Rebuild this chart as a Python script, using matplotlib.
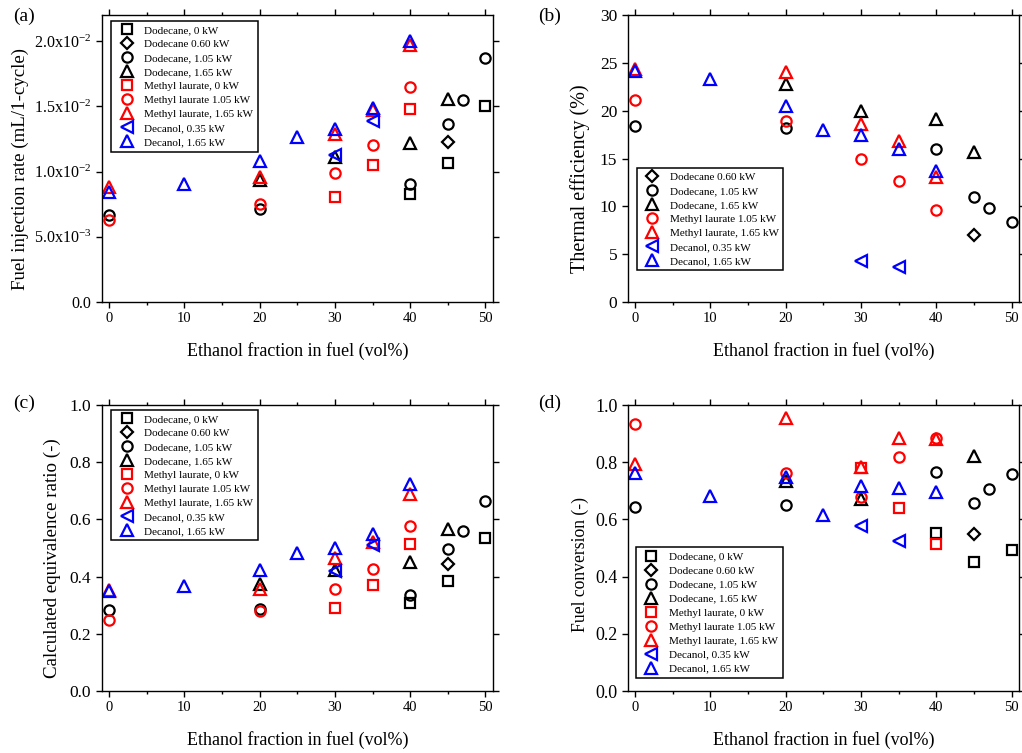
import numpy as np
import matplotlib
matplotlib.use("Agg")
import matplotlib.pyplot as plt
from matplotlib.ticker import MultipleLocator, FixedLocator, FixedFormatter

plt.rcParams['font.family'] = ['Liberation Serif', 'DejaVu Serif']
plt.rcParams['mathtext.fontset'] = 'custom'
plt.rcParams['mathtext.rm'] = 'Liberation Serif'
plt.rcParams['mathtext.it'] = 'Liberation Serif:italic'

# ethanol fraction (vol%) per series
x_dod0 = [40, 45, 50]
x_dod060 = [45]
x_dod105 = [0, 20, 40, 45, 47, 50]
x_dod165 = [20, 30, 40, 45]
x_ml0 = [30, 35, 40]
x_ml105 = [0, 20, 30, 35, 40]
x_ml165 = [0, 20, 30, 35, 40]
x_dec035 = [30, 35]
x_dec165 = [0, 10, 20, 25, 30, 35, 40]

# (a) fuel injection rate (mL/1-cycle)
inj_dod0 = [0.00831, 0.01066, 0.0150]
inj_dod060 = [0.01227]
inj_dod105 = [0.00665, 0.00716, 0.00908, 0.01368, 0.01552, 0.01867]
inj_dod165 = [0.00938, 0.0111, 0.0122, 0.01557]
inj_ml0 = [0.00803, 0.01048, 0.01478]
inj_ml105 = [0.00627, 0.00754, 0.0099, 0.01202, 0.01649]
inj_ml165 = [0.00882, 0.00956, 0.01289, 0.0147, 0.01974]
inj_dec035 = [0.0113, 0.01386]
inj_dec165 = [0.00841, 0.00908, 0.01084, 0.01266, 0.01327, 0.01488, 0.0200]

# (b) thermal efficiency (%)
eff_dod0 = []
eff_dod060 = [6.96]
eff_dod105 = [18.45, 18.24, 16.01, 11.0, 9.85, 8.35]
eff_dod165 = [22.76, 20.01, 19.18, 15.66]
eff_ml0 = []
eff_ml105 = [21.09, 18.9, 14.97, 12.67, 9.64]
eff_ml165 = [24.4, 24.09, 18.62, 16.81, 13.02]
eff_dec035 = [4.32, 3.62]
eff_dec165 = [24.2, 23.29, 20.5, 18.0, 17.5, 15.98, 13.71]

# (c) calculated equivalence ratio (-)
phi_dod0 = [0.307, 0.385, 0.535]
phi_dod060 = [0.444]
phi_dod105 = [0.283, 0.286, 0.336, 0.497, 0.558, 0.664]
phi_dod165 = [0.373, 0.423, 0.452, 0.566]
phi_ml0 = [0.289, 0.372, 0.515]
phi_ml105 = [0.249, 0.281, 0.357, 0.427, 0.578]
phi_ml165 = [0.353, 0.357, 0.466, 0.522, 0.689]
phi_dec035 = [0.421, 0.510]
phi_dec165 = [0.350, 0.368, 0.423, 0.484, 0.499, 0.548, 0.724]

# (d) fuel conversion (-)
conv_dod0 = [0.554, 0.450, 0.492]
conv_dod060 = [0.548]
conv_dod105 = [0.643, 0.650, 0.765, 0.657, 0.707, 0.758]
conv_dod165 = [0.734, 0.671, np.nan, 0.823]
conv_ml0 = [0.780, 0.639, 0.514]
conv_ml105 = [0.932, 0.763, 0.677, 0.819, 0.886]
conv_ml165 = [0.793, 0.956, 0.785, 0.886, 0.880]
conv_dec035 = [0.578, 0.526]
conv_dec165 = [0.763, 0.683, 0.747, 0.615, 0.717, 0.709, 0.697]

labels = ['Dodecane, 0 kW', 'Dodecane 0.60 kW', 'Dodecane, 1.05 kW', 'Dodecane, 1.65 kW',
          'Methyl laurate, 0 kW', 'Methyl laurate 1.05 kW', 'Methyl laurate, 1.65 kW',
          'Decanol, 0.35 kW', 'Decanol, 1.65 kW']
xs = [x_dod0, x_dod060, x_dod105, x_dod165, x_ml0, x_ml105, x_ml165, x_dec035, x_dec165]
markers = ['s', 'D', 'o', '^', 's', 'o', '^', '<', '^']
sizes = [6.5, 6.5, 7.4, 9, 6.5, 7.4, 9, 9, 9]
colors = ['black', 'black', 'black', 'black', 'red', 'red', 'red', 'blue', 'blue']


def panel(ax, ys, ylim, ystep, legend_xy):
    for x, y, lab, m, s, c in zip(xs, ys, labels, markers, sizes, colors):
        if len(y) == 0:
            continue
        ax.plot(x, y, linestyle='none', marker=m, markersize=s, markerfacecolor='none',
                markeredgecolor=c, markeredgewidth=1.6, label=lab)
    ax.set_xlim(-1, 51)
    ax.set_ylim(*ylim)
    ax.xaxis.set_major_locator(MultipleLocator(10))
    ax.xaxis.set_minor_locator(MultipleLocator(5))
    ax.yaxis.set_major_locator(MultipleLocator(ystep))
    ax.tick_params(which='both', direction='out', top=True, right=True, width=1)
    ax.tick_params(which='major', length=4)
    ax.tick_params(which='minor', length=2.2)
    ax.tick_params(axis='x', labelsize=10.5)
    for sp in ax.spines.values():
        sp.set_linewidth(1)
    ax.set_xlabel('Ethanol fraction in fuel (vol%)', fontsize=13, labelpad=12)
    leg = ax.legend(loc='upper left', bbox_to_anchor=legend_xy, borderaxespad=0,
                    fontsize=8, frameon=True, fancybox=False, edgecolor='black',
                    framealpha=1, handlelength=2.0, handletextpad=0.6,
                    labelspacing=0.38, borderpad=0.4, numpoints=1)
    leg.get_frame().set_linewidth(1.1)
    return ax


fig = plt.figure(figsize=(10.22, 7.53), dpi=100)
ax_a = fig.add_axes([0.0995, 0.5989, 0.3829, 0.3811])
ax_b = fig.add_axes([0.6142, 0.5989, 0.3829, 0.3811])
ax_c = fig.add_axes([0.0995, 0.0823, 0.3829, 0.3798])
ax_d = fig.add_axes([0.6142, 0.0823, 0.3829, 0.3798])

panel(ax_a, [inj_dod0, inj_dod060, inj_dod105, inj_dod165, inj_ml0, inj_ml105, inj_ml165,
             inj_dec035, inj_dec165], (0, 0.022), 0.005, (0.024, 0.979))
panel(ax_b, [eff_dod0, eff_dod060, eff_dod105, eff_dod165, eff_ml0, eff_ml105, eff_ml165,
             eff_dec035, eff_dec165], (0, 30), 5, (0.023, 0.468))
panel(ax_c, [phi_dod0, phi_dod060, phi_dod105, phi_dod165, phi_ml0, phi_ml105, phi_ml165,
             phi_dec035, phi_dec165], (0, 1.0), 0.2, (0.024, 0.984))
panel(ax_d, [conv_dod0, conv_dod060, conv_dod105, conv_dod165, conv_ml0, conv_ml105, conv_ml165,
             conv_dec035, conv_dec165], (0, 1.0), 0.2, (0.021, 0.502))

# y tick labels for (a)
a_ticks = [0.0, 0.005, 0.010, 0.015, 0.020]
a_ticklabels = ['0.0', '5.0x10$^{-3}$', '1.0x10$^{-2}$', '1.5x10$^{-2}$', '2.0x10$^{-2}$']
ax_a.yaxis.set_major_locator(FixedLocator(a_ticks))
ax_a.yaxis.set_major_formatter(FixedFormatter(a_ticklabels))
ax_a.tick_params(axis='y', labelsize=11.5)
ax_b.tick_params(axis='y', labelsize=12.5)
ax_c.tick_params(axis='y', labelsize=12.5)
ax_d.tick_params(axis='y', labelsize=13)
ax_c.yaxis.set_major_formatter(plt.FormatStrFormatter('%.1f'))
ax_d.yaxis.set_major_formatter(plt.FormatStrFormatter('%.1f'))

# y labels
fig.text(20 / 1022, 1 - 169 / 753, 'Fuel injection rate (mL/1-cycle)', rotation=90,
         ha='center', va='center', fontsize=13.6)
fig.text(580 / 1022, 1 - 179 / 753, 'Thermal efficiency (%)', rotation=90,
         ha='center', va='center', fontsize=14.5)
fig.text(52 / 1022, 1 - 558 / 753, 'Calculated equivalence ratio (-)', rotation=90,
         ha='center', va='center', fontsize=13.7)
fig.text(580 / 1022, 1 - 564 / 753, 'Fuel conversion (-)', rotation=90,
         ha='center', va='center', fontsize=12.7)

# panel letters
fig.text(13 / 1022, 1 - 8 / 753, '(a)', ha='left', va='top', fontsize=14)
fig.text(538 / 1022, 1 - 8 / 753, '(b)', ha='left', va='top', fontsize=14)
fig.text(13 / 1022, 1 - 395 / 753, '(c)', ha='left', va='top', fontsize=14)
fig.text(538 / 1022, 1 - 395 / 753, '(d)', ha='left', va='top', fontsize=14)

fig.savefig('out.png', dpi=100)
